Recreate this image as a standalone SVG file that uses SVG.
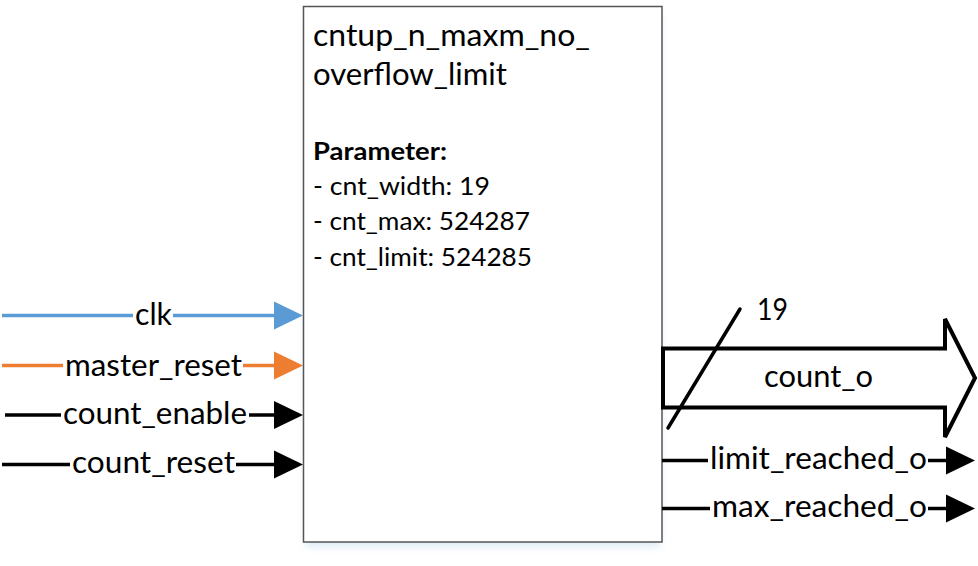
<svg xmlns="http://www.w3.org/2000/svg" width="978" height="566" viewBox="0 0 978 566">
<style>
text { font-family: Lato, "Open Sans", "Liberation Sans", sans-serif; fill: #000; }
.lbl { font-size: 30px; }
.ttl { font-size: 31px; }
.par { font-size: 25px; }
.bold { font-weight: bold; }
.wire { stroke-width: 3.5; fill: none; }
.blk { stroke: #000; }
.blue { stroke: #5B9BD5; }
.orng { stroke: #ED7D31; }
</style>
<defs>
<filter id="sh" x="-10%" y="-10%" width="120%" height="120%">
<feGaussianBlur stdDeviation="4"/>
</filter>
</defs>
<g id="block">
<rect x="306" y="12" width="354" height="534" fill="#BDD7EE" opacity="0.6" filter="url(#sh)"/>
<rect x="303.5" y="6.5" width="358.5" height="535.5" fill="#fff" stroke="#555" stroke-width="1.5"/>
<text class="ttl" x="313" y="46" textLength="277" lengthAdjust="spacingAndGlyphs">cntup_n_maxm_no_</text>
<text class="ttl" x="313" y="85" textLength="194" lengthAdjust="spacingAndGlyphs">overflow_limit</text>
<text class="par bold" x="313" y="160" textLength="134" lengthAdjust="spacingAndGlyphs">Parameter:</text>
<text class="par" x="313" y="195" textLength="177" lengthAdjust="spacingAndGlyphs">- cnt_width: 19</text>
<text class="par" x="313" y="230" textLength="217" lengthAdjust="spacingAndGlyphs">- cnt_max: 524287</text>
<text class="par" x="313" y="266" textLength="219" lengthAdjust="spacingAndGlyphs">- cnt_limit: 524285</text>
</g>
<g id="connectors">
<g id="clk">
<line class="wire blue" x1="2" y1="315.5" x2="133" y2="315.5"/>
<line class="wire blue" x1="173" y1="315.5" x2="278" y2="315.5"/>
<polygon points="274,301.5 303,315.5 274,329.5" fill="#5B9BD5"/>
<text class="lbl" x="135" y="325" textLength="37" lengthAdjust="spacingAndGlyphs">clk</text>
</g>
<g id="master_reset">
<line class="wire orng" x1="2" y1="365.5" x2="63" y2="365.5"/>
<line class="wire orng" x1="243" y1="365.5" x2="278" y2="365.5"/>
<polygon points="274,351.5 303,365.5 274,379.5" fill="#ED7D31"/>
<text class="lbl" x="65" y="376" textLength="177" lengthAdjust="spacingAndGlyphs">master_reset</text>
</g>
<g id="count_enable">
<line class="wire blk" x1="5" y1="415" x2="61" y2="415"/>
<line class="wire blk" x1="249" y1="415" x2="278" y2="415"/>
<polygon points="274,401 303,415 274,429" fill="#000"/>
<text class="lbl" x="63" y="424" textLength="184" lengthAdjust="spacingAndGlyphs">count_enable</text>
</g>
<g id="count_reset">
<line class="wire blk" x1="2" y1="464.5" x2="70" y2="464.5"/>
<line class="wire blk" x1="236" y1="464.5" x2="278" y2="464.5"/>
<polygon points="274,450.5 303,464.5 274,478.5" fill="#000"/>
<text class="lbl" x="72" y="473" textLength="163" lengthAdjust="spacingAndGlyphs">count_reset</text>
</g>
<g id="count_o">
<polygon points="663,348.5 945,348.5 945,319 975,378 945,437 945,407.5 663,407.5" fill="#fff" stroke="#000" stroke-width="4" stroke-linejoin="miter"/>
<line x1="668" y1="428" x2="740" y2="309" stroke="#000" stroke-width="3.5" stroke-linecap="round"/>
<text class="lbl" x="757" y="320" textLength="31" lengthAdjust="spacingAndGlyphs">19</text>
<text class="lbl" x="764" y="387" textLength="109" lengthAdjust="spacingAndGlyphs">count_o</text>
</g>
<g id="limit_reached_o">
<line class="wire blk" x1="662" y1="460.5" x2="708" y2="460.5"/>
<line class="wire blk" x1="928" y1="460.5" x2="950" y2="460.5"/>
<polygon points="946,446.5 975,460.5 946,474.5" fill="#000"/>
<text class="lbl" x="710" y="469" textLength="217" lengthAdjust="spacingAndGlyphs">limit_reached_o</text>
</g>
<g id="max_reached_o">
<line class="wire blk" x1="662" y1="508.5" x2="710" y2="508.5"/>
<line class="wire blk" x1="928" y1="508.5" x2="950" y2="508.5"/>
<polygon points="946,494.5 975,508.5 946,522.5" fill="#000"/>
<text class="lbl" x="712" y="517" textLength="215" lengthAdjust="spacingAndGlyphs">max_reached_o</text>
</g>
</g>
</svg>
